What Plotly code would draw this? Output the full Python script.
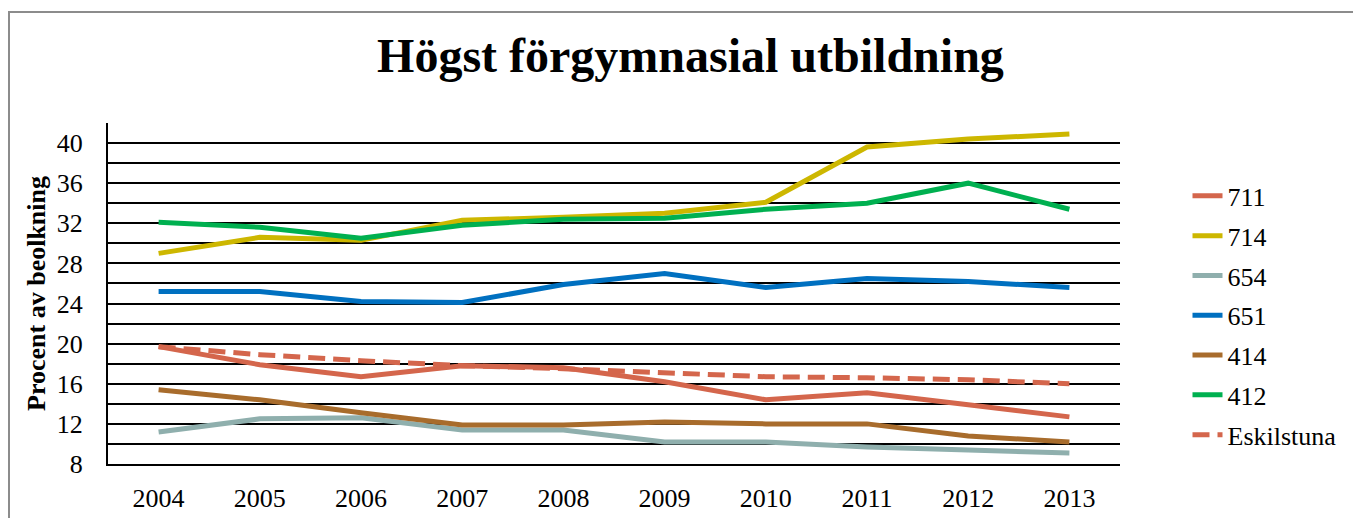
import plotly.graph_objects as go

# %%
years = ["2004", "2005", "2006", "2007", "2008", "2009", "2010", "2011", "2012", "2013"]

v711 = [19.7, 17.9, 16.7, 17.8, 17.6, 16.2, 14.4, 15.1, 13.9, 12.7]
v714 = [29.0, 30.6, 30.3, 32.3, 32.6, 33.0, 34.1, 39.6, 40.4, 40.9]
v654 = [11.2, 12.5, 12.6, 11.4, 11.4, 10.2, 10.2, 9.7, 9.4, 9.1]
v651 = [25.2, 25.2, 24.2, 24.1, 25.9, 27.0, 25.6, 26.5, 26.2, 25.6]
v414 = [15.4, 14.4, 13.1, 11.9, 11.9, 12.2, 12.0, 12.0, 10.8, 10.2]
v412 = [32.1, 31.6, 30.5, 31.8, 32.4, 32.5, 33.4, 34.0, 36.0, 33.4]
eskilstuna = [19.7, 18.9, 18.3, 17.8, 17.5, 17.1, 16.7, 16.6, 16.4, 16.0]

y_ticks = [8, 12, 16, 20, 24, 28, 32, 36, 40]

# %%
series = [
    ("711", v711, "#D4664C", "solid"),
    ("714", v714, "#CDB700", "solid"),
    ("654", v654, "#8FAFAD", "solid"),
    ("651", v651, "#0070C0", "solid"),
    ("414", v414, "#A86C2C", "solid"),
    ("412", v412, "#00B050", "solid"),
    ("Eskilstuna", eskilstuna, "#D4664C", "17px,8px"),
]

fig = go.Figure()
for name, vals, color, dash in series:
    fig.add_trace(
        go.Scatter(
            x=years,
            y=vals,
            name=name,
            mode="lines",
            legendgroup=name,
            line=dict(color=color, width=5, dash=dash),
        )
    )

serif = "Liberation Serif, Times New Roman, serif"

# the page body adds an 8px offset, so the figure is 8px smaller than the window
fig.update_layout(
    width=1353,
    height=510,
    margin=dict(l=100, r=241, t=115, b=54),
    paper_bgcolor="white",
    plot_bgcolor="white",
    font=dict(family=serif, size=26, color="black"),
    title=dict(
        text="<b>Högst förgymnasial utbildning</b>",
        x=0.5044,
        xanchor="center",
        y=0.908,
        yanchor="middle",
        font=dict(family=serif, size=48, color="black"),
    ),
    legend=dict(
        x=1.0667,
        y=0.855,
        xanchor="left",
        yanchor="top",
        font=dict(family=serif, size=26),
        tracegroupgap=3,
        bgcolor="rgba(0,0,0,0)",
    ),
    showlegend=True,
)

fig.update_xaxes(
    type="category",
    range=[-0.5, 9.5],
    automargin=False,
    showgrid=False,
    showline=True,
    linecolor="black",
    linewidth=2,
    ticks="",
    ticklabelstandoff=10,
    tickfont=dict(family=serif, size=26),
)

fig.update_yaxes(
    range=[8, 42],
    automargin=False,
    tickmode="array",
    tickvals=y_ticks,
    showgrid=True,
    gridcolor="black",
    gridwidth=2,
    minor=dict(dtick=2, tick0=8, showgrid=True, gridcolor="black", gridwidth=2),
    showline=True,
    linecolor="black",
    linewidth=2,
    zeroline=False,
    ticks="",
    ticklabelstandoff=18,
    tickfont=dict(family=serif, size=26),
    title=dict(
        text="<b>Procent av beolkning</b>",
        font=dict(family=serif, size=26),
        standoff=4,
    ),
)

# grey outer frame of the original chart box
fig.add_shape(
    type="rect",
    xref="paper",
    yref="paper",
    x0=(1 - 100) / 1012,
    x1=(1400 - 100) / 1012,
    y0=-0.3,
    y1=(456 - 4) / 341,
    line=dict(color="#8C8C8C", width=2),
    fillcolor="rgba(0,0,0,0)",
    layer="below",
)

fig.write_html("out.html")
